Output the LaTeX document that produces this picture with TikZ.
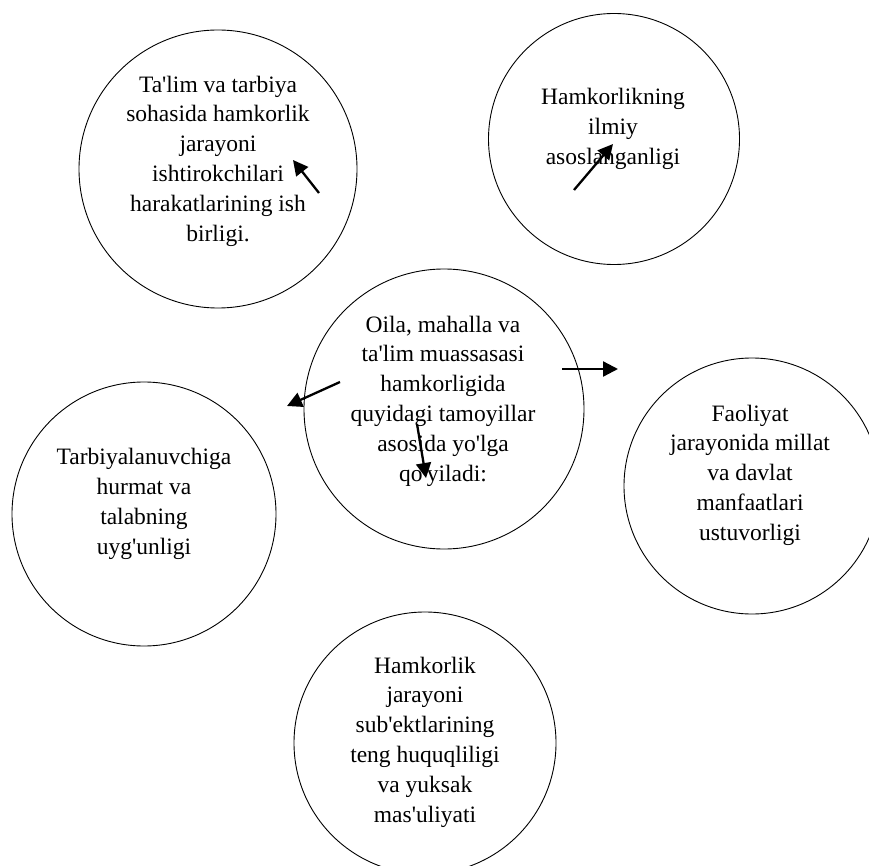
\documentclass[tikz,border=0pt]{standalone}
\usepackage{fontspec}
\setmainfont[Ligatures=TeXOff]{Liberation Serif}
\usetikzlibrary{arrows.meta}
\begin{document}
\begin{tikzpicture}[x=1pt,y=-1pt,
  circ/.style={draw,circle,line width=0.9pt,inner sep=0pt},
  txt/.style={align=center,font=\fontsize{23.5}{29.8}\selectfont,inner sep=0pt},
  arr/.style={line width=2.3pt,-{Triangle[length=15pt,width=15pt]}}]
\useasboundingbox (0,0) rectangle (869,866);
\clip (0,0) rectangle (869,866);
% circles
\node[circ,minimum size=278pt] (c1) at (218,169) {};
\node[circ,minimum size=251pt] (c2) at (614,139) {};
\node[circ,minimum size=280pt] (c3) at (444,409) {};
\node[circ,minimum size=256pt] (c4) at (752,486) {};
\node[circ,minimum size=264pt] (c5) at (144,514) {};
\node[circ,minimum size=262pt] (c6) at (425,743) {};
% texts
\node[txt] (t1) at (218,161) {Ta'lim va tarbiya\\sohasida hamkorlik\\jarayoni\\ishtirokchilari\\harakatlarining ish\\birligi.};
\node[txt] (t2) at (613,129) {Hamkorlikning\\ilmiy\\asoslanganligi};
\node[txt] (t3) at (443,401) {Oila, mahalla va\\ta'lim muassasasi\\hamkorligida\\quyidagi tamoyillar\\asosida yo'lga\\qo'yiladi:};
\node[txt] (t4) at (750,475) {Faoliyat\\jarayonida millat\\va davlat\\manfaatlari\\ustuvorligi};
\node[txt] (t5) at (144,504) {Tarbiyalanuvchiga\\hurmat va\\talabning\\uyg'unligi};
\node[txt] (t6) at (425,742) {Hamkorlik\\jarayoni\\sub'ektlarining\\teng huquqliligi\\va yuksak\\mas'uliyati};
% arrows
\coordinate (a1s) at (319,193); \coordinate (a1e) at (293,160);
\coordinate (a2s) at (574,190); \coordinate (a2e) at (613,144);
\coordinate (a3s) at (340,382); \coordinate (a3e) at (287,406);
\coordinate (a4s) at (562,369); \coordinate (a4e) at (618,369);
\coordinate (a5s) at (417,424); \coordinate (a5e) at (426,478);
\draw[arr] (a1s) -- (a1e);
\draw[arr] (a2s) -- (a2e);
\draw[arr] (a3s) -- (a3e);
\draw[arr] (a4s) -- (a4e);
\draw[arr] (a5s) -- (a5e);
\end{tikzpicture}
\end{document}
